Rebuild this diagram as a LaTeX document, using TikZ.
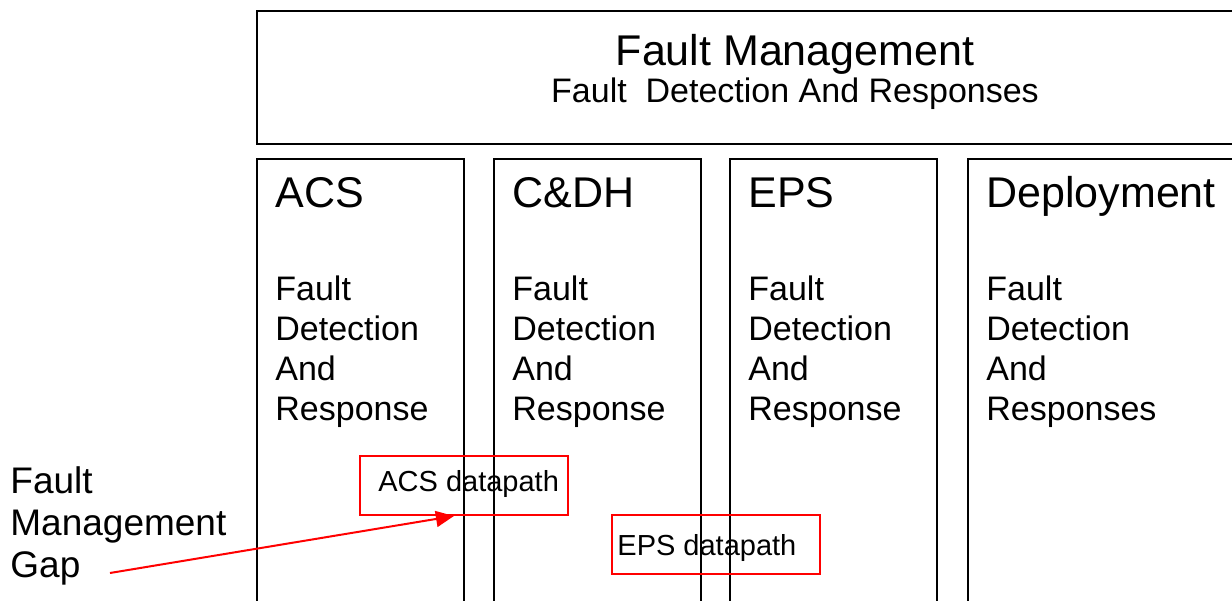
\documentclass[tikz,border=0pt]{standalone}
\usepackage{fontspec}
\setmainfont{Liberation Sans}
\usetikzlibrary{arrows.meta,calc}
\begin{document}
\begin{tikzpicture}[x=0.5pt,y=-0.5pt,
  frame/.style={draw=black,line width=1pt,rectangle,inner sep=0pt,anchor=north west},
  column/.style={frame,minimum width=103.5pt,minimum height=231pt},
  redbox/.style={draw=red,line width=1pt,rectangle,inner sep=0pt,anchor=north west,
    minimum width=104pt,minimum height=29.5pt},
  bigtext/.style={font=\fontsize{21.5}{25}\selectfont,inner sep=0pt},
  midtext/.style={font=\fontsize{17}{20}\selectfont,inner sep=0pt},
  coltitle/.style={bigtext,anchor=base west},
  % multi-line nodes: the base anchor sits on the last line
  colbody/.style={midtext,anchor=base west,align=left},
  gaptext/.style={font=\fontsize{18.5}{21}\selectfont,inner sep=0pt,anchor=base west,align=left},
  pathtext/.style={font=\fontsize{14.5}{17}\selectfont,inner sep=0pt,anchor=base west},
]
\useasboundingbox (0,0) rectangle (1232,600);
\clip (0,0) rectangle (1232,600);

% overall fault management layer
\node[frame,minimum width=539pt,minimum height=66.5pt] (fm) at (256,10) {};
\node[bigtext,anchor=base] (fmtitle) at (795,65) {Fault Management};
\node[midtext,anchor=base] (fmsub) at (795,102) {Fault\ \ Detection And Responses};

% subsystem columns
\node[column] (acs) at (256,158) {};
\node[column] (cdh) at (493,158) {};
\node[column] (eps) at (729,158) {};
\node[column,minimum width=170pt] (dep) at (967,158) {};

\node[coltitle] (acsT) at (275,207) {ACS};
\node[coltitle] (cdhT) at (512,207) {C\&DH};
\node[coltitle] (epsT) at (748,207) {EPS};
\node[coltitle] (depT) at (986,207) {Deployment};

\node[colbody] (acsB) at (275,420) {Fault\\Detection\\And\\Response};
\node[colbody] (cdhB) at (512,420) {Fault\\Detection\\And\\Response};
\node[colbody] (epsB) at (748,420) {Fault\\Detection\\And\\Response};
\node[colbody] (depB) at (986,420) {Fault\\Detection\\And\\Responses};

% data paths crossing subsystem boundaries
\node[redbox] (acsdp) at (359,455) {};
\node[pathtext] (acsdpT) at (378,491) {ACS datapath};
\node[redbox] (epsdp) at (611,514) {};
\node[pathtext] (epsdpT) at (617,555) {EPS datapath};

% gap annotation
\node[gaptext] (gap) at (10,577) {Fault\\Management\\Gap};
\coordinate (gapstart) at (110,573);
\draw[red,line width=1pt,-{Triangle[length=9pt,width=8pt]}]
  (gapstart) -- ($(acsdp.south west)!0.452!(acsdp.south east)$);
\end{tikzpicture}
\end{document}
